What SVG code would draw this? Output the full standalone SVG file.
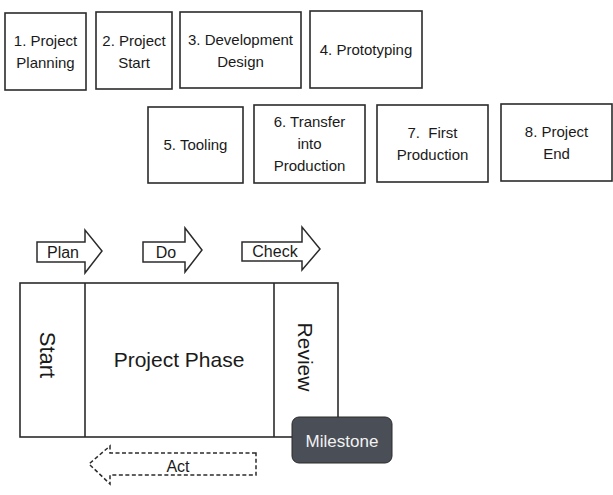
<svg xmlns="http://www.w3.org/2000/svg" width="613" height="495" viewBox="0 0 613 495">
<style>
.box{fill:#fff;stroke:#2b2b2b;stroke-width:1.6}
.t{font-family:"Liberation Sans",Arial,sans-serif;font-size:15px;fill:#1a1a1a;text-anchor:middle}
.big{font-family:"Liberation Sans",Arial,sans-serif;font-size:21px;fill:#1a1a1a;text-anchor:middle}
.arr{fill:#fff;stroke:#2b2b2b;stroke-width:1.5;stroke-linejoin:miter}
.dash{fill:#fff;stroke:#2b2b2b;stroke-width:1.5;stroke-dasharray:4 2.5}
</style>
<rect width="613" height="495" fill="#fff"/>
<g id="n1"><rect class="box" x="5" y="13" width="81" height="77"/><text class="t" x="45.5" y="46">1. Project</text><text class="t" x="45.5" y="68">Planning</text></g>
<g id="n2"><rect class="box" x="96" y="12" width="76" height="77"/><text class="t" x="134" y="46">2. Project</text><text class="t" x="134" y="68">Start</text></g>
<g id="n3"><rect class="box" x="180" y="12" width="121" height="76"/><text class="t" x="240.5" y="45">3. Development</text><text class="t" x="240.5" y="67">Design</text></g>
<g id="n4"><rect class="box" x="310" y="11" width="112" height="77"/><text class="t" x="366" y="55">4. Prototyping</text></g>
<g id="n5"><rect class="box" x="148" y="107" width="95" height="76"/><text class="t" x="195.5" y="150">5. Tooling</text></g>
<g id="n6"><rect class="box" x="254" y="105" width="111" height="78"/><text class="t" x="309.5" y="127">6. Transfer</text><text class="t" x="309.5" y="149">into</text><text class="t" x="309.5" y="171">Production</text></g>
<g id="n7"><rect class="box" x="377" y="105" width="111" height="77"/><text class="t" x="432.5" y="138" xml:space="preserve">7.  First</text><text class="t" x="432.5" y="160">Production</text></g>
<g id="n8"><rect class="box" x="501" y="104" width="111" height="77"/><text class="t" x="556.5" y="137">8. Project</text><text class="t" x="556.5" y="159">End</text></g>

<g id="connectors">
<g id="plan"><path class="arr" d="M37 242 H85 V230 L102 251 L85 273 V262 H37 Z"/><text class="t" x="63" y="258" style="font-size:16px">Plan</text></g>
<g id="do"><path class="arr" d="M143 242 H185 V228 L202 250 L185 272 V262 H143 Z"/><text class="t" x="166" y="258" style="font-size:16px">Do</text></g>
<g id="check"><path class="arr" d="M242 242 H302 V227 L320 249 L302 270 V261 H242 Z"/><text class="t" x="275" y="257" style="font-size:16px">Check</text></g>
<g id="act"><path class="dash" d="M256 453 H110 V446 L89 464 L110 484 V475 H256 Z"/><text class="t" x="178" y="472" style="font-size:16px">Act</text></g>
</g>

<g id="phase">
<rect class="box" x="20" y="283" width="318" height="154"/>
<line x1="85" y1="283" x2="85" y2="437" stroke="#2b2b2b" stroke-width="1.6"/>
<line x1="274" y1="283" x2="274" y2="437" stroke="#2b2b2b" stroke-width="1.6"/>
<text class="big" x="0" y="0" transform="translate(40 355) rotate(90)" style="font-size:22px">Start</text>
<text class="big" x="179" y="367">Project Phase</text>
<text class="big" x="0" y="0" transform="translate(298 357) rotate(90)">Review</text>
</g>
<g id="milestone"><rect x="292" y="417" width="100" height="46" rx="7" fill="#4a4e57" stroke="#2b2b2b" stroke-width="1"/><text class="t" x="342" y="447" style="font-size:17px;fill:#f2f2f2">Milestone</text></g>
</svg>
